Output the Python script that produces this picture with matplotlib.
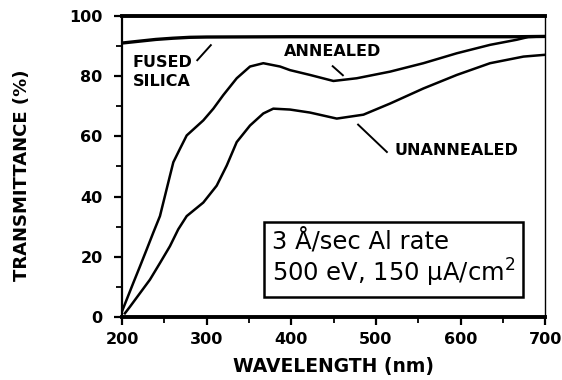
import numpy as np
import matplotlib.pyplot as plt

# values
wl_fused = [200, 220, 240, 260, 280, 300, 400, 500, 600, 667, 700]
t_fused = [91.0, 91.6, 92.2, 92.6, 92.9, 93.0, 93.1, 93.1, 93.1, 93.1, 93.2]

wl_ann = [200, 205.5, 213.4, 221.3, 229.2, 237, 244.9, 250.8, 256.7, 260.7,
          268.6, 276.5, 296.1, 308, 319.7, 335.6, 351.3, 367, 386.8, 398.6,
          422.2, 449.8, 477.4, 516.8, 556.1, 595.6, 634.9, 666.5, 680, 700]
t_ann = [1.8, 5.7, 11.3, 16.8, 22.4, 28.0, 33.5, 40.2, 46.9, 51.4,
         55.9, 60.3, 65.3, 69.2, 73.7, 79.3, 83.2, 84.3, 83.2, 82.0,
         80.4, 78.4, 79.3, 81.5, 84.3, 87.6, 90.4, 92.1, 93.0, 93.2]

wl_unann = [203.5, 209.5, 221.3, 233.1, 244.9, 256.7, 266.5, 276.5, 296.1,
            311.9, 323.8, 335.6, 351.3, 367, 378.8, 398.6, 422.2, 453.8,
            485.3, 516.8, 556.1, 595.6, 634.9, 674.4, 700]
t_unann = [1.2, 3.4, 7.9, 12.4, 17.9, 23.5, 29.1, 33.5, 38.0,
           43.6, 50.3, 58.1, 63.6, 67.6, 69.2, 68.9, 67.9, 65.9,
           67.2, 70.9, 75.9, 80.4, 84.3, 86.5, 87.1]

fig = plt.figure(figsize=(5.62, 3.80), dpi=100)
ax = fig.add_axes([0.217, 0.166, 0.753, 0.792])

ax.plot(wl_fused, t_fused, color='black', lw=2.4, solid_capstyle='butt')
ax.plot(wl_ann, t_ann, color='black', lw=1.8)
ax.plot(wl_unann, t_unann, color='black', lw=1.8)

ax.set_xlim(200, 700)
ax.set_ylim(0, 100)
ax.set_xticks(range(200, 701, 100))
ax.set_yticks(range(0, 101, 20))
ax.set_xticks(range(250, 700, 100), minor=True)
ax.set_yticks(range(10, 100, 20), minor=True)
ax.tick_params(direction='out', length=6, width=1.6, labelsize=11.5, pad=5)
ax.tick_params(axis='y', pad=8)
ax.tick_params(which='minor', direction='out', length=4, width=1.3)
for lab in ax.get_xticklabels() + ax.get_yticklabels():
    lab.set_fontweight('heavy')

ax.spines['top'].set_linewidth(2.8)
ax.spines['bottom'].set_linewidth(2.8)
ax.spines['left'].set_linewidth(1.6)
ax.spines['right'].set_linewidth(1.0)

ax.set_xlabel('WAVELENGTH (nm)', fontsize=13.5, fontweight='heavy', labelpad=7)
ax.set_ylabel('TRANSMITTANCE (%)', fontsize=13, fontweight='heavy')
ax.yaxis.set_label_coords(-0.215, 0.47)

# curve labels and leaders
ax.text(213, 81.4, 'FUSED\nSILICA', fontsize=11.5, fontweight='bold',
        va='center', ha='left', linespacing=1.4)
ax.plot([289, 305], [85.3, 90.3], color='black', lw=1.4)
ax.text(449, 88.3, 'ANNEALED', fontsize=11.5, fontweight='bold',
        ha='center', va='center')
ax.plot([449, 461], [83.3, 80.3], color='black', lw=1.4)
ax.text(522, 55.2, 'UNANNEALED', fontsize=11.5, fontweight='bold',
        ha='left', va='center')
ax.plot([479, 513], [63.9, 54.8], color='black', lw=1.4)

ax.text(377, 19.5, '3 Å/sec Al rate\n500 eV, 150 µA/cm$^2$', fontsize=17.5,
        ha='left', va='center', linespacing=1.15,
        bbox=dict(boxstyle='square,pad=0.33', fc='white', ec='black', lw=1.8))

fig.savefig('out.png', dpi=100)
